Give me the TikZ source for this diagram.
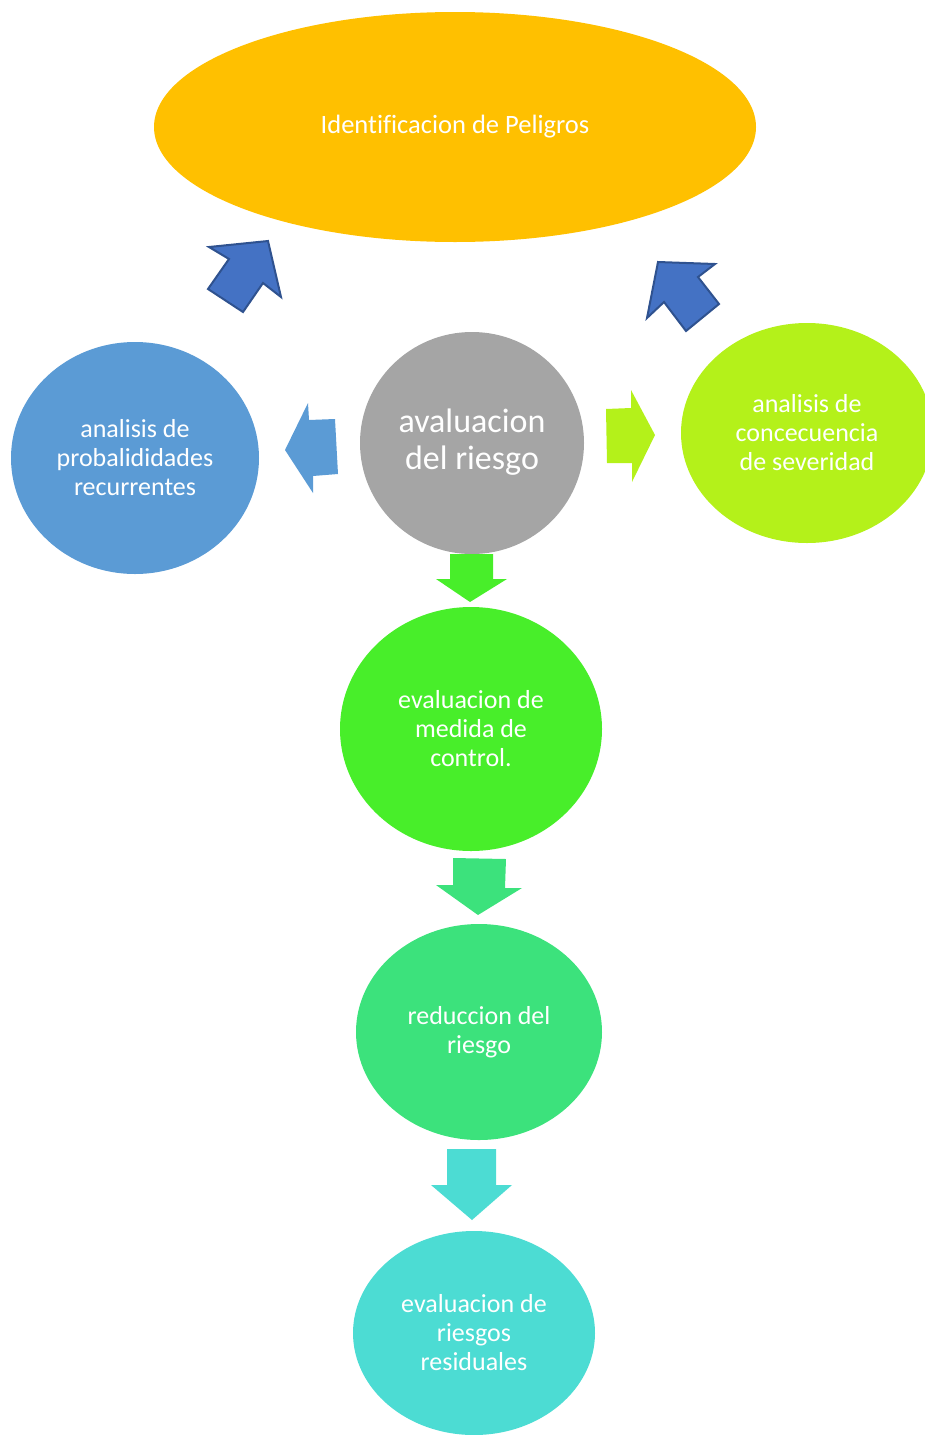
\documentclass[tikz,border=0pt]{standalone}
\usepackage{fontspec}
\setmainfont[Ligatures=NoCommon]{Carlito}
\usetikzlibrary{shapes.geometric}
\definecolor{cgold}{HTML}{FFC000}
\definecolor{cblue}{HTML}{5B9BD5}
\definecolor{cgray}{HTML}{A5A5A5}
\definecolor{clime}{HTML}{B4F11A}
\definecolor{cgreen}{HTML}{48EE2A}
\definecolor{cmint}{HTML}{3CE27C}
\definecolor{ccyan}{HTML}{4CDCD3}
\definecolor{carrow}{HTML}{4472C4}
\definecolor{cborder}{HTML}{2F528F}
\tikzset{
  blob/.style={ellipse, inner sep=0pt, text=white, align=center, font=\fontsize{26}{29}\selectfont},
  uparrow/.style={fill=carrow, draw=cborder, line width=2pt, line join=miter},
}
\begin{document}
\begin{tikzpicture}[x=1pt,y=-1pt]
\useasboundingbox (0,0) rectangle (925,1435);
\clip (0,0) rectangle (925,1435);
\node[blob, fill=cgold, minimum width=602, minimum height=230, font=\fontsize{26.5}{30}\selectfont] (peligros) at (455,127) {Identificacion de Peligros};
\node[blob, fill=cblue, minimum width=248, minimum height=232] (prob) at (135,458) {analisis de\\probalididades\\recurrentes};
\node[blob, fill=cgray, minimum width=224, minimum height=222, font=\fontsize{34}{37}\selectfont] (eval) at (472,443) {};
\node[text=white, align=center, font=\fontsize{34}{37}\selectfont, inner sep=0pt] (evaltext) at (472,442) {avaluacion\\del riesgo};
\node[blob, fill=clime, minimum width=252, minimum height=220] (sev) at (807,433) {analisis de\\concecuencia\\de severidad};
\node[blob, fill=cgreen, minimum width=262, minimum height=244] (control) at (471,729) {evaluacion de\\medida de\\control.};
\node[blob, fill=cmint, minimum width=246, minimum height=216] (reduc) at (479,1032) {reduccion del\\riesgo};
\node[blob, fill=ccyan, minimum width=242, minimum height=204] (resid) at (474,1333) {evaluacion de\\riesgos\\residuales};
% block arrows
\filldraw[uparrow] (268,241) -- (281,297) -- (263,283) -- (243,312) -- (208,289) -- (229,259) -- (209,247) -- cycle;
\filldraw[uparrow] (658,262) -- (715,264) -- (698,277) -- (719,304) -- (686,331) -- (664,302) -- (647,318) -- cycle;
\fill[cblue] (285,450) -- (308,403) -- (309,420) -- (335,419) -- (338,474) -- (313,476) -- (313,493) -- cycle;
\fill[clime] (606,409) -- (631,408) -- (631,390) -- (655,435) -- (632,482) -- (632,463) -- (607,463) -- cycle;
\fill[cgreen] (450,554) -- (493,554) -- (493,579) -- (507,579) -- (470,602) -- (436,579) -- (450,579) -- cycle;
\fill[cmint] (453,858) -- (506,859) -- (505,888) -- (522,888) -- (478,915) -- (436,885) -- (453,885) -- cycle;
\fill[ccyan] (447,1149) -- (496,1149) -- (496,1185) -- (512,1185) -- (472,1220) -- (431,1185) -- (447,1185) -- cycle;
\end{tikzpicture}
\end{document}
